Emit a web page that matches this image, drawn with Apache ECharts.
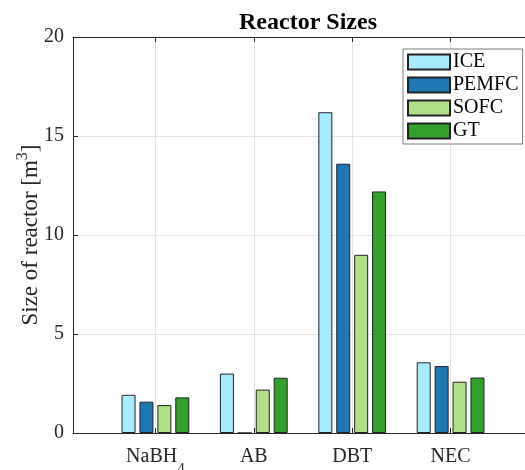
<!DOCTYPE html>
<html>
<head>
<meta charset="utf-8">
<script src="https://cdn.jsdelivr.net/npm/echarts@6/dist/echarts.min.js"></script>
<style>
  html, body { margin: 0; padding: 0; background: #fff; }
  #chart { width: 525px; height: 470px; }
</style>
</head>
<body>
<div id="chart"></div>
<script>
// Fuel categories and reactor volumes (m^3) for each power unit
const categories = ['NaBH4', 'AB', 'DBT', 'NEC'];
const categoryLabels = ['{m|NaBH}{sub|4}', '{m|AB}', '{m|DBT}', '{m|NEC}'];
const seriesNames = ['ICE', 'PEMFC', 'SOFC', 'GT'];
const iceValues = [1.93, 3.0, 16.2, 3.57];
const pemfcValues = [1.58, 0, 13.6, 3.38];
const sofcValues = [1.41, 2.19, 9.0, 2.59];
const gtValues = [1.8, 2.79, 12.2, 2.8];
const yTicks = [0, 5, 10, 15, 20];
const seriesColors = ['#a6ebff', '#1f77b4', '#b2df8a', '#33a02c'];

const allValues = [iceValues, pemfcValues, sofcValues, gtValues];
const catPositions = categories.map((c, i) => i + 1);
const FONT = 'Liberation Serif';
const AXIS = '#262626';
const GRID = '#e3e3e3';

const chart = echarts.init(document.getElementById('chart'), null, { renderer: 'canvas' });

const series = seriesNames.map((name, s) => ({
  name: name,
  type: 'bar',
  xAxisIndex: 0,
  barWidth: 14,
  barGap: '28%',
  itemStyle: { color: seriesColors[s], borderColor: '#222', borderWidth: 1 },
  data: allValues[s].map((v, i) => [catPositions[i], v])
}));

const xBase = {
  type: 'value',
  min: 0.1624,
  max: 4.8376,
  axisLine: { show: true, onZero: false, lineStyle: { color: AXIS, width: 1 } },
  axisTick: { show: true, inside: true, length: 5, customValues: catPositions, lineStyle: { color: AXIS } }
};

chart.setOption({
  animation: false,
  backgroundColor: '#fff',
  title: {
    text: 'Reactor Sizes',
    left: 303,
    textAlign: 'center',
    top: 6,
    textStyle: { fontFamily: FONT, fontSize: 24, fontWeight: 'bold', color: '#000' }
  },
  legend: {
    orient: 'vertical',
    left: 403,
    top: 49,
    padding: [3, 4, 3, 4],
    itemWidth: 42,
    itemHeight: 15,
    itemGap: 3,
    borderColor: '#7a7a7a',
    borderWidth: 1,
    backgroundColor: '#fff',
    icon: 'rect',
    textStyle: { fontFamily: FONT, fontSize: 20, color: '#000', padding: [0, 0, 0, -2] },
    data: seriesNames
  },
  grid: { left: 73, right: -8, top: 37, bottom: 37, containLabel: false, outerBoundsMode: 'none' },
  xAxis: [
    Object.assign({}, xBase, {
      position: 'bottom',
      splitLine: { show: true, lineStyle: { color: GRID, width: 1 } },
      axisLabel: {
        show: true,
        customValues: catPositions,
        margin: 3,
        fontFamily: FONT,
        fontSize: 20,
        color: AXIS,
        formatter: v => categoryLabels[Math.round(v) - 1],
        rich: {
          m: { fontFamily: FONT, fontSize: 20, color: AXIS, lineHeight: 41 },
          sub: { fontFamily: FONT, fontSize: 15, color: AXIS, padding: [26, 0, 0, 0] }
        }
      }
    }),
    Object.assign({}, xBase, {
      position: 'top',
      splitLine: { show: false },
      axisLabel: { show: false }
    })
  ],
  yAxis: {
    type: 'value',
    min: 0,
    max: 20,
    interval: 5,
    name: 'Size of reactor [m{sup|3}]',
    nameLocation: 'middle',
    nameGap: 26,
    nameMoveOverlap: false,
    nameTextStyle: {
      fontFamily: FONT,
      fontSize: 23,
      color: AXIS,
      rich: { sup: { fontFamily: FONT, fontSize: 16, color: AXIS, padding: [0, 0, 16, 0] } }
    },
    axisLine: { show: true, lineStyle: { color: AXIS, width: 1 } },
    axisTick: { show: true, inside: true, length: 5, lineStyle: { color: AXIS } },
    splitLine: { show: true, lineStyle: { color: GRID, width: 1 } },
    axisLabel: {
      margin: 9,
      fontFamily: FONT,
      fontSize: 20,
      color: AXIS,
      customValues: yTicks
    }
  },
  series: series
});
</script>
</body>
</html>
